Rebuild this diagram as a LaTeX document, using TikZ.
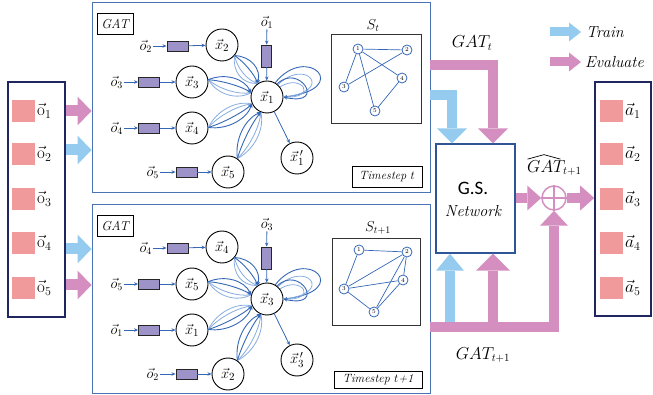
\documentclass[tikz,border=0pt]{standalone}
\usepackage{fontspec}
\newfontfamily\calibri{Carlito}
\usetikzlibrary{arrows.meta,calc}
\definecolor{sqc}{HTML}{F19A9B}
\definecolor{purp}{HTML}{9E93C8}
\definecolor{pkc}{HTML}{D48FC0}
\definecolor{blc}{HTML}{95CBEE}
\definecolor{pbl}{HTML}{4A72B5}
\definecolor{navy}{HTML}{1F2660}
\definecolor{gsb}{HTML}{2F5597}
\definecolor{edk}{HTML}{3567B7}
\definecolor{elt}{HTML}{86ACDF}
\tikzset{
  gnode/.style={circle,draw,line width=0.9pt,minimum size=32pt,inner sep=0pt,fill=white,font=\fontsize{15}{15}\selectfont},
  feat/.style={draw=black!85,line width=0.9pt,fill=purp,minimum width=21pt,minimum height=10pt,inner sep=0pt},
  featv/.style={feat,minimum width=10pt,minimum height=22pt},
  inarr/.style={draw=edk,line width=0.8pt,-{Stealth[length=4pt,width=3.5pt]}},
  olbl/.style={inner sep=1pt,font=\fontsize{14}{14}\selectfont},
  dk/.style={draw=edk,line width=0.9pt},
  lt/.style={draw=elt,line width=0.8pt},
  dkarr/.style={dk,-{Stealth[length=4pt,width=3.5pt]}},
  gatlbl/.style={draw,line width=0.7pt,minimum width=36pt,minimum height=21pt,inner sep=0pt,font=\fontsize{13}{13}\selectfont\itshape},
  panel/.style={draw=pbl,line width=1pt,inner sep=0pt,minimum width=338pt},
  iobox/.style={draw=navy,line width=1.6pt,inner sep=0pt,fill=white},
  sq/.style={fill=sqc,minimum width=23pt,minimum height=22pt,inner sep=0pt},
  iolbl/.style={inner sep=0pt,font=\fontsize{17}{17}\selectfont},
  sbox/.style={draw=black!80,line width=0.9pt,inner sep=0pt},
  snode/.style={circle,draw=edk,line width=0.8pt,fill=white,minimum size=10pt,inner sep=0pt,font=\fontsize{6}{6}\selectfont},
  sedge/.style={draw=edk,line width=0.7pt},
  tsbox/.style={draw,line width=0.7pt,inner sep=0pt,font=\fontsize{12}{12}\selectfont\itshape},
  pk/.style={draw=pkc,line width=10pt,line join=miter,-{Triangle[width=30pt,length=15pt,line width=0pt]}},
  bl/.style={draw=blc,line width=10pt,line join=miter,-{Triangle[width=30pt,length=15pt,line width=0pt]}},
  bigl/.style={inner sep=0pt,font=\fontsize{16}{16}\selectfont},
}
% bundle of attention edges: #1 start, #2 end, (#3,#4) bulge vector
\newcommand{\leaf}[4]{%
  \draw[lt] (#1) .. controls ($(#1)!0.3!(#2)+-1.1*(#3,#4)$) and ($(#1)!0.75!(#2)+-1.1*(#3,#4)$) .. (#2);
  \draw[lt] (#1) .. controls ($(#1)!0.3!(#2)+-0.55*(#3,#4)$) and ($(#1)!0.75!(#2)+-0.55*(#3,#4)$) .. (#2);
  \draw[dkarr] (#1) .. controls ($(#1)!0.3!(#2)+1.1*(#3,#4)$) and ($(#1)!0.75!(#2)+1.1*(#3,#4)$) .. (#2);
  \draw[dkarr] (#1) .. controls ($(#1)!0.3!(#2)+0.3*(#3,#4)$) and ($(#1)!0.75!(#2)+0.3*(#3,#4)$) .. (#2);
}
\newcommand{\gatpanel}[5]{%
  \node[gatlbl] (gat) at (115,23.5) {GAT};
  \node[gnode] (ctr) at (267,97) {$\vec{x}_{#1}$};
  \node[gnode] (na) at (222,45) {$\vec{x}_{#2}$};
  \node[gnode] (nb) at (192,82) {$\vec{x}_{#3}$};
  \node[gnode] (nd) at (192,128) {$\vec{x}_{#4}$};
  \node[gnode] (ne) at (228,172) {$\vec{x}_{#5}$};
  \node[gnode] (ncp) at (297,158) {$\vec{x}^{\,\prime}_{#1}$};
  \node[feat] (fa) at (177.5,46) {};
  \node[feat] (fb) at (149,82) {};
  \node[feat] (fd) at (149,128) {};
  \node[feat] (fe) at (186.5,172) {};
  \node[featv] (fc) at (266.5,56) {};
  \node[olbl,anchor=east] (oa) at (153,46) {$\vec{o}_{#2}$};
  \node[olbl,anchor=east] (ob) at (124,82) {$\vec{o}_{#3}$};
  \node[olbl,anchor=east] (od) at (124,128) {$\vec{o}_{#4}$};
  \node[olbl,anchor=east] (oe) at (160,172) {$\vec{o}_{#5}$};
  \node[olbl] (oc) at (267,22) {$\vec{o}_{#1}$};
  \foreach \p/\q/\r in {oa/fa/na,ob/fb/nb,od/fd/nd,oe/fe/ne,oc/fc/ctr}{
    \draw[inarr] (\p) -- (\q);
    \draw[inarr] (\q) -- (\r);
  }
  \leaf{na.-40}{ctr.125}{8.5}{-7}
  \leaf{nb.8}{ctr.165}{3.5}{-10}
  \leaf{nd.2}{ctr.205}{4.7}{8.8}
  \leaf{ne.55}{ctr.248}{-9}{-4.6}
  \draw[dkarr] (ctr.60) .. controls +(32,-40) and +(70,-8) .. (ctr.east);
  \draw[lt] (ctr.48) .. controls +(28,-28) and +(52,-5) .. (ctr.east);
  \draw[lt] (ctr.38) .. controls +(22,-14) and +(36,2) .. (ctr.east);
  \draw[dkarr] (ctr.52) .. controls +(22,-22) and +(44,10) .. (ctr.east);
  \draw[inarr] (ctr) -- (ncp);
}
\begin{document}
\begin{tikzpicture}[x=1pt,y=-1pt]
\useasboundingbox (0,0) rectangle (653,395);

% panels
\node[panel,minimum height=190pt] (P1) at (261,98) {};
\node[panel,minimum height=188pt] (P2) at (261,299) {};

% left and right boxes
\node[iobox,minimum width=57pt,minimum height=235pt] (L) at (36.5,199.5) {};
\node[iobox,minimum width=56pt,minimum height=234pt] (R) at (623,199) {};
\foreach \i/\y in {1/111,2/154,3/199,4/243,5/288}{
  \node[sq] (ls\i) at (23.5,\y) {};
  \node[iolbl,anchor=west] (lo\i) at (37,\y) {$\vec{\mathrm{o}}_{\i}$};
  \node[sq] (rs\i) at (611.5,\y) {};
  \node[iolbl,anchor=west] (ra\i) at (625,\y) {$\vec{a}_{\i}$};
}

% arrows from left box
\tikzset{sm/.style={line width=11pt,-{Triangle[width=29pt,length=14pt,line width=0pt]}}}
\draw[sm,draw=pkc] (L.east |- lo1) -- (P1.west |- lo1);
\draw[sm,draw=blc] ($(L.east |- lo2)+(0,-4)$) -- ($(P1.west |- lo2)+(0,-4)$);
\draw[sm,draw=blc] ($(L.east |- lo4)+(0,6)$) -- ($(P2.west |- lo4)+(0,6)$);
\draw[sm,draw=pkc] ($(L.east |- lo5)+(0,-3)$) -- ($(P2.west |- lo5)+(0,-3)$);

% GAT panels
\begin{scope}[name prefix=top-]
  \gatpanel{1}{2}{3}{4}{5}
\end{scope}
\begin{scope}[shift={(0,202)},name prefix=bot-]
  \gatpanel{3}{4}{5}{1}{2}
\end{scope}

% S_t
\node[sbox,minimum width=90pt,minimum height=89pt] (S1) at (376,78.5) {};
\node[bigl,font=\fontsize{14}{14}\selectfont] (S1l) at (373,26) {$S_t$};
\node[snode] (s11) at (358,49) {1};
\node[snode] (s12) at (407,50) {2};
\node[snode] (s13) at (344,87) {3};
\node[snode] (s14) at (402,78) {4};
\node[snode] (s15) at (375,111) {5};
\foreach \u/\v in {1/2,1/3,1/4,1/5,2/3,4/5}{\draw[sedge] (s1\u) -- (s1\v);}
\node[tsbox,minimum width=70pt,minimum height=21pt] (T1) at (387,176.5) {Timestep $t$};

% S_{t+1}
\node[sbox,minimum width=88pt,minimum height=87pt] (S2) at (376,281.5) {};
\node[bigl,font=\fontsize{14}{14}\selectfont] (S2l) at (378,228) {$S_{t+1}$};
\node[snode] (s21) at (359,250) {1};
\node[snode] (s22) at (407,252) {2};
\node[snode] (s23) at (344,289) {3};
\node[snode] (s24) at (403,280) {4};
\node[snode] (s25) at (374,312) {5};
\foreach \u/\v in {1/2,1/3,2/3,2/4,2/5,3/4,3/5,4/5}{\draw[sedge] (s2\u) -- (s2\v);}
\node[tsbox,minimum width=88pt,minimum height=17pt] (T2) at (378,380) {Timestep $t$+1};

% G.S. network
\node[draw=gsb,line width=1.4pt,minimum width=79pt,minimum height=109pt,inner sep=0pt,fill=white] (gs) at (475.5,198.5) {};
\node[inner sep=0pt,font=\fontsize{19}{19}\calibri] (gst) at (473,188) {G.S.};
\node[inner sep=0pt,font=\fontsize{16}{16}\selectfont\itshape] (gsn) at (473,211) {Network};

% oplus
\node[circle,draw=pkc,line width=1.5pt,minimum size=24pt,inner sep=0pt,fill=white] (op) at (554,198) {};
\draw[pkc,line width=1.5pt] (op.north) -- (op.south) (op.west) -- (op.east);

% top connectors
\coordinate (gtp) at (430,65);
\coordinate (gtb) at (430,95);
\draw[bl] (gtb) -| ([xshift=-23.5pt]gs.north);
\draw[pk] (gtp) -| ([xshift=17.5pt]gs.north);
\node[bigl] (gatt) at (472,43) {$GAT_t$};

% bottom connectors
\coordinate (gbt) at (430,327);
\draw[bl,-{Triangle[width=28pt,length=17pt,line width=0pt]}] ([xshift=-25.5pt]gs.south |- gbt) -- ([xshift=-25.5pt]gs.south);
\draw[pk,-{Triangle[width=28pt,length=15pt,line width=0pt]}] (gbt) -| (op.south);
\draw[pk,-{Triangle[width=34pt,length=17pt,line width=0pt]}] ([xshift=17.5pt]gs.south |- gbt) -- ([xshift=17.5pt]gs.south);
\node[bigl] (gatt1) at (483,355) {$GAT_{t+1}$};

% to output
\draw[pk,-{Triangle[width=25pt,length=14pt,line width=0pt]}] (gs.east |- op) -- (op.west);
\draw[pk,-{Triangle[width=25pt,length=14pt,line width=0pt]}] (op.east) -- (R.west |- op);
\node[bigl,anchor=west] (gath) at (527,168) {$GAT_{t+1}$};
\draw[line width=0.7pt,line join=round] ($(gath.north west)+(0.5,-1)$) -- ($(gath.north west)+(17,-5.5)$) -- ($(gath.north west)+(33.5,-1)$);

% legend
\coordinate (lg1) at (550,32);
\coordinate (lg2) at (550,62);
\node[bigl,anchor=west,font=\fontsize{16}{16}\selectfont\itshape] (trn) at (586,32) {Train};
\node[bigl,anchor=west,font=\fontsize{16}{16}\selectfont\itshape] (evl) at (585,62) {Evaluate};
\draw[draw=blc,line width=9pt,-{Triangle[width=19pt,length=12pt,line width=0pt]}] (lg1) -- ([xshift=-5pt]trn.west);
\draw[draw=pkc,line width=9pt,-{Triangle[width=19pt,length=12pt,line width=0pt]}] (lg2) -- ([xshift=-4pt]evl.west);
\end{tikzpicture}
\end{document}
